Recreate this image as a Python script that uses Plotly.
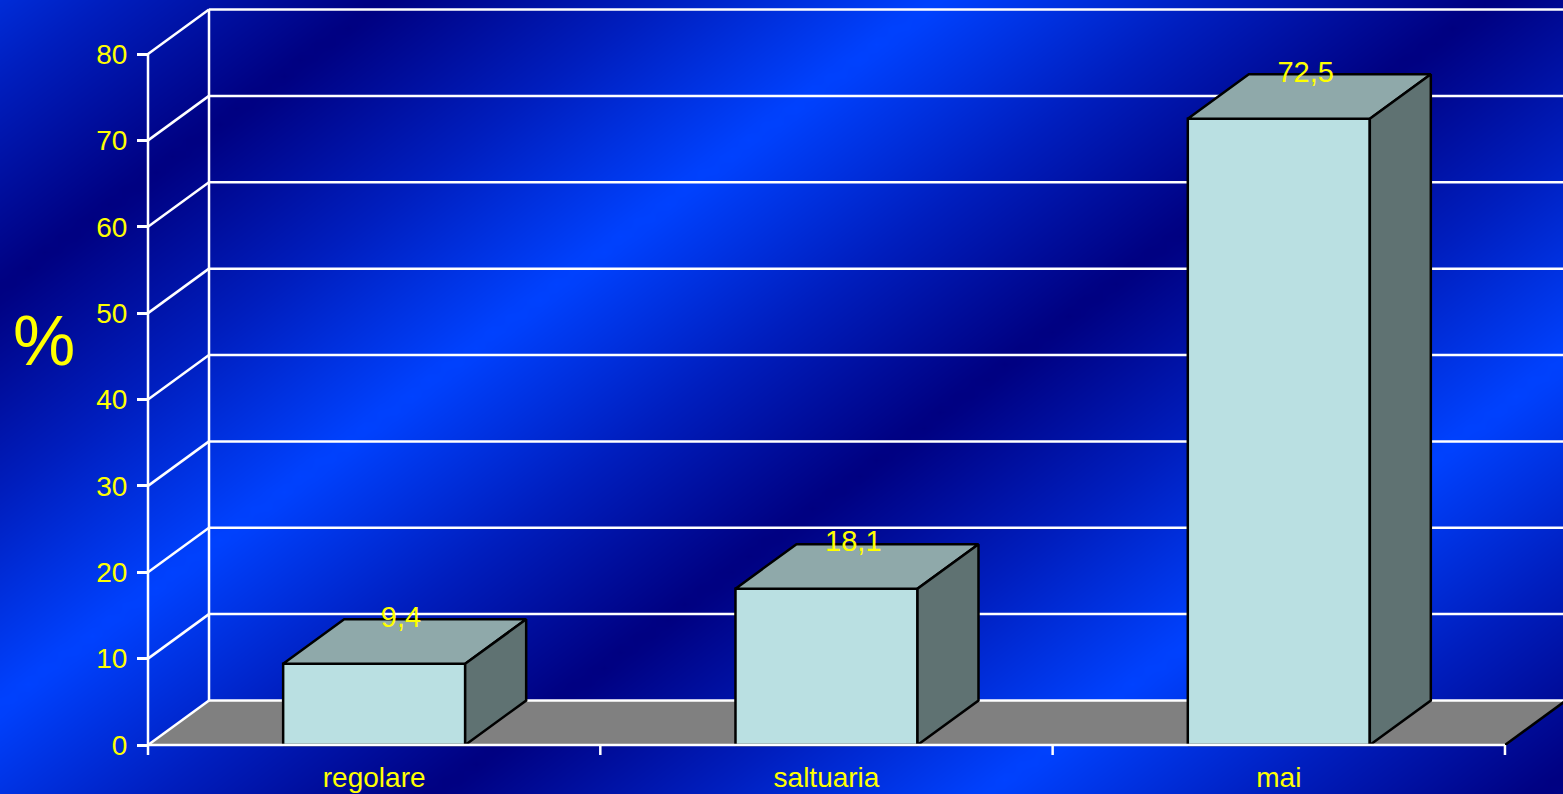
import numpy as np
import plotly.graph_objects as go

# ---- data ----
categories = ["regolare", "saltuaria", "mai"]
values = [9.4, 18.1, 72.5]
y_ticks = [0, 10, 20, 30, 40, 50, 60, 70, 80]
y_title = "%"

# ---- canvas / scales ----
W, H = 1563, 794
X_LO, X_HI = -0.8272, 2.6283          # category units across the full width
Y_LO, Y_HI = -5.673, 86.252           # value units across the full height
PX_X = W / (X_HI - X_LO)              # pixels per category unit
PX_Y = H / (Y_HI - Y_LO)              # pixels per value unit

DX, DY = 61 / PX_X, 44.5 / PX_Y       # oblique depth of the 3D projection
BAR_W = 0.4024                        # bar width as share of a category slot
Y_MAX = y_ticks[-1]
LEFT = -0.5
RIGHT = len(categories) - 0.5

YELLOW = "#FFFF00"
FONT = "Liberation Sans, Arial, sans-serif"

fig = go.Figure()

# ---- background: diagonal blue banding ----
gx = np.arange(-20, W + 40, 16.0)
gy = np.arange(-20, H + 40, 16.0)
PX, PY = np.meshgrid(gx, gy)
u = PX + 1.33 * PY
t = np.mod(u - 383.0, 1107.0) / 1107.0
band = 1.0 - np.abs(2.0 * t - 1.0)
fig.add_trace(go.Heatmap(
    x=X_LO + gx / PX_X,
    y=Y_HI - gy / PX_Y,
    z=band,
    zmin=0, zmax=1, zsmooth="best", showscale=False, hoverinfo="skip",
    colorscale=[[0, "rgb(0,0,128)"], [0.5, "rgb(0,30,190)"], [1, "rgb(0,66,255)"]],
))


def seg_trace(segments, color, width):
    xs, ys = [], []
    for (x0, y0), (x1, y1) in segments:
        xs += [x0, x1, None]
        ys += [y0, y1, None]
    return go.Scatter(x=xs, y=ys, mode="lines", hoverinfo="skip",
                      line=dict(color=color, width=width))


def poly_trace(pts, fill, line_color, width):
    xs = [p[0] for p in pts] + [pts[0][0]]
    ys = [p[1] for p in pts] + [pts[0][1]]
    return go.Scatter(x=xs, y=ys, mode="lines", fill="toself", fillcolor=fill,
                      hoverinfo="skip", line=dict(color=line_color, width=width))


# ---- floor ----
fig.add_trace(poly_trace([(LEFT, 0), (RIGHT, 0), (RIGHT + DX, DY), (LEFT + DX, DY)],
                         "#808080", "rgba(0,0,0,0)", 0))

# ---- walls: back gridlines, side diagonals, wall edges ----
grid = []
for v in y_ticks:
    grid.append(((LEFT + DX, v + DY), (X_HI + 0.2, v + DY)))
    grid.append(((LEFT, v), (LEFT + DX, v + DY)))
grid.append(((LEFT + DX, DY), (LEFT + DX, Y_MAX + DY)))
grid.append(((LEFT, 0), (LEFT, Y_MAX)))
fig.add_trace(seg_trace(grid, "white", 2.5))

# right edge of the floor
fig.add_trace(seg_trace([((RIGHT, 0), (RIGHT + DX, DY))], "black", 2.5))

# ---- 3D bars ----
for i, v in enumerate(values):
    x0, x1 = i - BAR_W / 2, i + BAR_W / 2
    fig.add_trace(poly_trace([(x0, 0), (x1, 0), (x1, v), (x0, v)],
                             "rgb(186,224,226)", "black", 2.5))
    fig.add_trace(poly_trace([(x0, v), (x1, v), (x1 + DX, v + DY), (x0 + DX, v + DY)],
                             "rgb(143,169,170)", "black", 2.5))
    fig.add_trace(poly_trace([(x1, 0), (x1 + DX, DY), (x1 + DX, v + DY), (x1, v)],
                             "rgb(95,114,114)", "black", 2.5))

# ---- category axis line and slot ticks ----
tick_len = 10 / PX_Y
axis = [((LEFT, 0), (RIGHT, 0))]
for k in range(len(categories) + 1):
    b = LEFT + k
    axis.append(((b, 0), (b, -tick_len)))
fig.add_trace(seg_trace(axis, "white", 2.5))

# ---- value labels on the bar tops ----
fig.add_trace(go.Scatter(
    x=[i + 0.44 * DX for i in range(len(values))],
    y=[v + DY for v in values],
    text=[f"{v:.1f}".replace(".", ",") for v in values],
    mode="text", textposition="middle center", cliponaxis=False, hoverinfo="skip",
    textfont=dict(color=YELLOW, size=29, family=FONT),
))

fig.update_layout(
    width=W, height=H,
    margin=dict(l=0, r=0, t=0, b=0),
    paper_bgcolor="rgb(0,0,128)", plot_bgcolor="rgb(0,0,128)",
    showlegend=False,
    xaxis=dict(range=[X_LO, X_HI], domain=[0, 1], anchor="free", position=49 / H,
               tickvals=list(range(len(categories))), ticktext=categories,
               ticks="", showline=False, showgrid=False, zeroline=False,
               tickfont=dict(color=YELLOW, size=28, family=FONT),
               ticklabelstandoff=13, fixedrange=True),
    yaxis=dict(range=[Y_LO, Y_HI], domain=[0, 1], anchor="free", position=148 / W,
               tickvals=y_ticks, ticks="outside", ticklen=11, tickwidth=2.5,
               tickcolor="white", showline=False, showgrid=False, zeroline=False,
               tickfont=dict(color=YELLOW, size=28, family=FONT),
               ticklabelstandoff=4, fixedrange=True),
    annotations=[dict(text=y_title, x=44 / W, y=1 - 341 / H, xref="paper", yref="paper",
                      showarrow=False, xanchor="center", yanchor="middle",
                      font=dict(color=YELLOW, size=70, family=FONT))],
)

fig.write_html("out.html")
